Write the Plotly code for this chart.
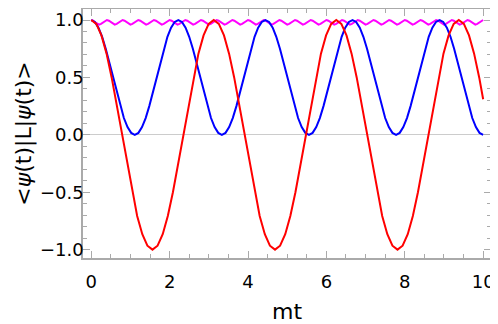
import plotly.graph_objects as go

# values
# red curve
t_red = [0, 0.130, 0.261, 0.391, 0.521, 0.651, 0.782, 0.912, 1.042, 1.172, 1.303, 1.433,
         1.563, 1.693, 1.824, 1.954, 2.084, 2.214, 2.345, 2.475, 2.605, 2.735, 2.866, 2.996,
         3.126, 3.256, 3.387, 3.517, 3.647, 3.777, 3.908, 4.038, 4.168, 4.298, 4.429, 4.559,
         4.689, 4.819, 4.950, 5.080, 5.210, 5.340, 5.471, 5.601, 5.731, 5.861, 5.992, 6.122,
         6.252, 6.382, 6.513, 6.643, 6.773, 6.903, 7.034, 7.164, 7.294, 7.424, 7.555, 7.685,
         7.815, 7.945, 8.076, 8.206, 8.336, 8.466, 8.597, 8.727, 8.857, 8.987, 9.118, 9.248,
         9.378, 9.508, 9.639, 9.769, 9.899, 10.0]
l_red = [1, 0.966, 0.866, 0.707, 0.5, 0.259, 0, -0.259, -0.5, -0.707, -0.866, -0.966,
         -1, -0.966, -0.866, -0.707, -0.5, -0.259, 0, 0.259, 0.5, 0.707, 0.866, 0.966,
         1, 0.966, 0.866, 0.707, 0.5, 0.259, 0, -0.259, -0.5, -0.707, -0.866, -0.966,
         -1, -0.966, -0.866, -0.707, -0.5, -0.259, 0, 0.259, 0.5, 0.707, 0.866, 0.966,
         1, 0.966, 0.866, 0.707, 0.5, 0.259, 0, -0.259, -0.5, -0.707, -0.866, -0.966,
         -1, -0.966, -0.866, -0.707, -0.5, -0.259, 0, 0.259, 0.5, 0.707, 0.866, 0.966,
         1, 0.966, 0.866, 0.707, 0.5, 0.31]

# blue curve
t_blue = [0, 0.093, 0.185, 0.278, 0.370, 0.463, 0.556, 0.648, 0.741, 0.833, 0.926, 1.019,
          1.111, 1.204, 1.296, 1.389, 1.481, 1.574, 1.667, 1.759, 1.852, 1.944, 2.037, 2.130,
          2.222, 2.315, 2.407, 2.500, 2.593, 2.685, 2.778, 2.870, 2.963, 3.056, 3.148, 3.241,
          3.333, 3.426, 3.519, 3.611, 3.704, 3.796, 3.889, 3.981, 4.074, 4.167, 4.259, 4.352,
          4.444, 4.537, 4.630, 4.722, 4.815, 4.907, 5.000, 5.093, 5.185, 5.278, 5.370, 5.463,
          5.556, 5.648, 5.741, 5.833, 5.926, 6.019, 6.111, 6.204, 6.296, 6.389, 6.481, 6.574,
          6.667, 6.759, 6.852, 6.944, 7.037, 7.130, 7.222, 7.315, 7.407, 7.500, 7.593, 7.685,
          7.778, 7.870, 7.963, 8.056, 8.148, 8.241, 8.333, 8.426, 8.519, 8.611, 8.704, 8.796,
          8.889, 8.981, 9.074, 9.167, 9.259, 9.352, 9.444, 9.537, 9.630, 9.722, 9.815, 9.907,
          10.0]
l_blue = [1, 0.983, 0.933, 0.854, 0.75, 0.629, 0.5, 0.371, 0.25, 0.146, 0.067, 0.017,
          0, 0.017, 0.067, 0.146, 0.25, 0.371, 0.5, 0.629, 0.75, 0.854, 0.933, 0.983,
          1, 0.983, 0.933, 0.854, 0.75, 0.629, 0.5, 0.371, 0.25, 0.146, 0.067, 0.017,
          0, 0.017, 0.067, 0.146, 0.25, 0.371, 0.5, 0.629, 0.75, 0.854, 0.933, 0.983,
          1, 0.983, 0.933, 0.854, 0.75, 0.629, 0.5, 0.371, 0.25, 0.146, 0.067, 0.017,
          0, 0.017, 0.067, 0.146, 0.25, 0.371, 0.5, 0.629, 0.75, 0.854, 0.933, 0.983,
          1, 0.983, 0.933, 0.854, 0.75, 0.629, 0.5, 0.371, 0.25, 0.146, 0.067, 0.017,
          0, 0.017, 0.067, 0.146, 0.25, 0.371, 0.5, 0.629, 0.75, 0.854, 0.933, 0.983,
          1, 0.983, 0.933, 0.854, 0.75, 0.629, 0.5, 0.371, 0.25, 0.146, 0.067, 0.017,
          0]

# magenta curve: small wiggle just under 1, samples every 0.05
wiggle = [1.0, 0.994, 0.98, 0.966, 0.96, 0.966, 0.98, 0.994]
t_mag = [round(i * 0.05, 2) for i in range(201)]
l_mag = (wiggle * 26)[:201]

x_ticks = [0, 2, 4, 6, 8, 10]
y_ticks = [-1.0, -0.5, 0.0, 0.5, 1.0]
y_labels = ["\u22121.0", "\u22120.5", "0.0", "0.5", "1.0"]

fig = go.Figure()
fig.add_trace(go.Scatter(x=t_mag, y=l_mag, mode="lines",
                         line=dict(color="#ff00ff", width=2)))
fig.add_trace(go.Scatter(x=t_blue, y=l_blue, mode="lines",
                         line=dict(color="#0000ff", width=2)))
fig.add_trace(go.Scatter(x=t_red, y=l_red, mode="lines",
                         line=dict(color="#ff0000", width=2)))

# page body has an 8px margin, so the figure is 8px smaller than the window
frame = "#aaaaaa"
fig.update_layout(
    width=490, height=316,
    margin=dict(l=75, r=7, t=1, b=66),
    paper_bgcolor="white", plot_bgcolor="white",
    showlegend=False,
    font=dict(family="DejaVu Sans", size=18, color="black"),
    xaxis=dict(range=[-0.21, 10.2], tickvals=x_ticks, ticks="inside", ticklen=7,
               tickcolor=frame, showline=True, linecolor=frame, linewidth=1.5,
               mirror="allticks", showgrid=False, zeroline=False, automargin=False,
               ticklabeloverflow="allow", ticklabelstandoff=7,
               minor=dict(ticks="inside", dtick=0.5, ticklen=4, tickcolor=frame),
               title=dict(text="mt", standoff=14)),
    yaxis=dict(range=[-1.073, 1.096], tickvals=y_ticks, ticktext=y_labels,
               ticks="inside", ticklen=7, tickcolor=frame, showline=True,
               linecolor=frame, linewidth=1.5, mirror="allticks", showgrid=False,
               zeroline=True, zerolinecolor="#cccccc", zerolinewidth=1, automargin=False,
               ticklabeloverflow="allow", ticklabelstandoff=-6,
               minor=dict(ticks="inside", dtick=0.1, ticklen=4, tickcolor=frame),
               title=dict(text="&lt;<i>\u03c8</i>(t)|L|<i>\u03c8</i>(t)&gt;", standoff=2)),
)

fig.write_html("out.html")
